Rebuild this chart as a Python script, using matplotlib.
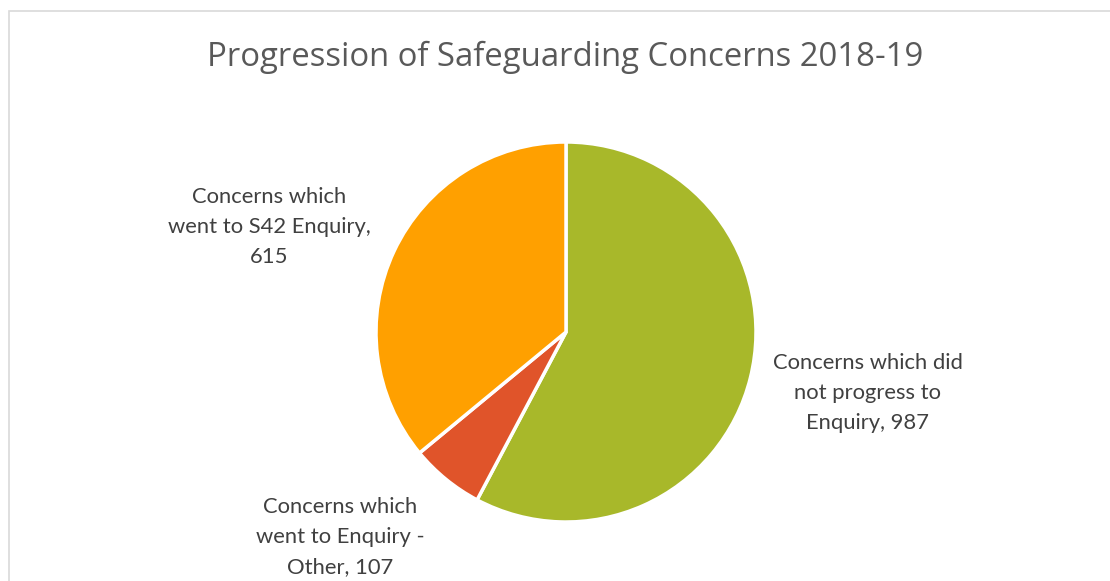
import matplotlib
matplotlib.use("Agg")
import matplotlib.pyplot as plt
from matplotlib.patches import Rectangle

## chart data
categories = ["Concerns which did\nnot progress to\nEnquiry",
              "Concerns which\nwent to Enquiry -\nOther",
              "Concerns which\nwent to S42 Enquiry,\n"]
values = [987, 107, 615]
colors = ["#A8B82A", "#E0542A", "#FFA000"]
title = "Progression of Safeguarding Concerns 2018-19"

W, H = 1110, 581

fig = plt.figure(figsize=(W / 100, H / 100), dpi=100)
ax = fig.add_axes([0, 0, 1, 1])

ax.pie(values, colors=colors, startangle=90, counterclock=False,
       center=(566, H - 332), radius=190,
       wedgeprops=dict(edgecolor="white", linewidth=2.5))

# pie() resets the limits, so set pixel-like limits afterwards
ax.set_xlim(0, W)
ax.set_ylim(0, H)
ax.set_aspect("equal")
ax.axis("off")

# light chart-area border (runs off the right and bottom edges)
ax.add_patch(Rectangle((8.5, -20), W + 40, H - 10.5 + 20, fill=False,
                       edgecolor="#D9D9D9", linewidth=1.2))

# data labels: name, value
label_pos = [(868, 393), (340, 537), (269, 227)]
for name, val, (x, y) in zip(categories, values, label_pos):
    if name.endswith("\n"):
        txt = name + str(val)
    else:
        txt = name + ", " + str(val)
    ax.text(x, H - y, txt, ha="center", va="center", fontsize=15.8,
            family="Lato", color="#404040", linespacing=1.62)

ax.text(565, H - 57, title, ha="center", va="center", fontsize=23.7,
        family="Open Sans", color="#595959")

plt.savefig("out.png", dpi=100)
plt.close()
